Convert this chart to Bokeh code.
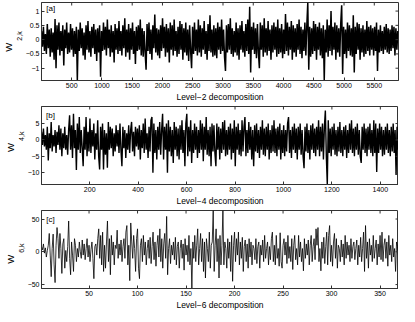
import math
from bokeh.plotting import figure
from bokeh.layouts import column
from bokeh.models import FixedTicker, Label, Range1d, Title
from bokeh.embed import file_html
from bokeh.resources import INLINE

# ---------------- data ----------------
# Level-2 coefficients, sampled every 16th position
w2_step = 16
w2 = [
 0.3,-0.25,0.45,-0.4,0.2,-0.5,0.55,-0.3,0.35,-0.6,0.4,-0.45,0.25,-0.7,0.72,-1.0,0.5,-0.35,0.6,-0.55,
 0.3,-0.4,0.5,-0.9,0.35,-0.3,0.6,-0.5,0.25,-0.45,0.55,-0.35,0.4,-0.6,0.3,-0.5,0.45,-1.43,0.35,-0.4,
 0.6,-0.3,0.4,-0.55,0.25,-0.7,0.5,-0.35,0.65,-0.45,0.3,-0.6,0.45,-0.3,0.55,-0.5,0.35,-0.75,0.4,-0.45,
 0.5,-1.3,0.3,-0.4,0.6,-0.35,0.45,-0.55,0.7,-0.3,0.35,-0.6,0.5,-0.45,0.3,-0.8,0.55,-0.35,0.4,-0.5,
 0.65,-0.4,0.3,-0.55,0.5,-0.3,0.75,-0.6,0.35,-0.45,0.55,-0.7,0.4,-0.35,0.6,-0.5,0.3,-0.85,0.45,-0.4,
 0.5,-0.35,0.7,-0.55,0.4,-0.6,0.3,-0.45,-1.05,0.55,-0.4,0.6,-0.5,0.35,-0.7,0.5,-0.3,0.88,-0.45,0.4,
 -0.55,0.35,-0.65,0.5,-0.4,0.75,-0.3,0.45,-0.6,0.55,-0.45,0.4,-0.8,0.6,-0.35,0.5,-0.55,0.7,-0.4,0.3,
 -0.6,0.45,-0.5,0.65,-0.35,0.55,-0.7,0.4,-0.45,0.6,-0.55,0.35,-0.75,0.5,-0.4,-1.0,0.45,-0.5,0.6,-0.4,
 0.35,-0.55,0.7,-0.45,0.5,-0.6,0.4,-0.35,0.65,-0.5,0.3,-0.7,0.55,-0.4,0.85,-0.45,0.35,-0.6,0.5,-0.55,
 0.4,-0.65,0.6,-0.35,0.45,-0.5,0.7,-0.4,0.35,-0.6,-1.1,0.5,-0.45,0.55,-0.35,0.75,-0.5,0.4,-0.6,0.3,
 -0.45,0.6,-0.55,0.4,-0.7,0.5,-0.35,0.65,-0.45,0.3,-0.6,0.55,-0.4,0.7,-0.5,1.15,-1.15,0.45,-0.35,0.6,
 -0.5,0.4,-0.65,0.55,-0.45,-1.0,0.6,-0.35,0.5,-0.6,0.75,-0.45,0.4,-0.55,0.65,-0.4,0.35,-0.7,0.5,-0.45,
 0.6,-0.35,0.45,-0.6,0.7,-0.5,0.4,-0.45,0.55,-0.65,0.35,-0.5,0.9,-0.4,0.6,-0.55,0.45,-0.35,0.65,-0.7,
 0.5,-0.45,0.4,-0.6,0.55,-0.35,0.7,-0.5,0.45,-0.65,0.35,-0.4,0.6,-0.55,0.5,1.3,-1.05,0.45,-0.6,0.4,
 -0.5,0.65,-0.4,0.55,-0.7,0.45,-0.35,0.6,-0.55,0.4,-0.65,0.5,-1.43,0.35,-0.45,0.7,-0.6,0.5,-0.4,1.0,
 -0.55,0.45,-0.35,0.6,-0.7,0.5,-0.45,0.4,-0.6,0.55,1.2,-1.2,0.45,-0.5,0.35,-0.65,0.6,-0.4,0.5,-0.55,
 0.4,-0.6,0.85,-1.15,0.45,-0.5,0.6,-0.35,0.55,-0.7,0.4,-0.45,0.5,-0.6,0.35,-0.5,0.65,-0.4,0.45,-0.55,
 0.5,-0.35,0.4,-0.55,0.45,-0.4,0.6,-1.1,0.35,-0.45,0.5,-0.4,0.3,-0.5,0.45,-0.35,0.55,-0.45,0.4,-0.5,
 0.35,-0.4,0.5,-0.3,0.45,-0.55,0.4,-0.35,0.3,
]

# Level-4 coefficients, sampled every 4th position
w4_step = 4
w4 = [
 2.5,-1.5,3.5,-2,1.5,-3,4,-6.3,2,-2.5,5.5,-3.5,1.5,-2,3,-4,2.5,-1.5,4.5,-3,
 3.5,-5,2,-2.5,4,-3,1.5,-4.5,3,7.5,-3,4.5,-5.5,8,-2.5,3,-9.2,5,-3,7,
 -4,3,-2.5,-8,4,-3,7,-5,2.5,-3.5,6.5,-4,3,-2,5,-6,2,-3,6,-5,
 -9,4,-3,5,-9,3,-4.5,2,-8.5,5.5,-3,4,-2.5,3.5,-5,2,-3.5,4.5,-2,3,
 -4,5,-3,-8,4,-2.5,3,-5.5,2,-3,4.5,-4,3,5.5,-3.5,2.5,-5,4,-2,3.5,
 -3,4.5,-6,3,-2.5,5,-4,6.5,-3,2,-5.5,4,-3.5,6,7,-10,5,-4,3,-6,
 4,-3,5.5,-4.5,3,8,-6,4,-3,5,-10,6,-3.5,4,-5,3,-7,5.5,-3,4,
 -5,3.5,-6,4.5,-3,6,-4,3,-8,5,8,-5,4,-3.5,6,-7,3,-4,5,-3,
 4,-5.5,3,-4,6,-3,5,-6.5,4,-3,7,-4.5,3,-5,4,-8,5,-3.5,4.5,-4,
 -8,5,-3,4,-6,3.5,-4,5.5,-3,6,-5,3,-4.5,4,-3,5,-6,3.5,-4,6,
 -8,4,-3,5,-4.5,3,-5,6,-3.5,4,7,-5,3,-4,5.5,-3,4,-6,3,-8,
 4.5,-3.5,5,-4,3,-5.5,4,-3,6,-4.5,3.5,-5,4,-3,5,-6,3,-4,4.5,-3.5,
 6,-4,3.5,-5,4,-3,5,-6,3,-4,4.5,-5,3,-3.5,5,7,-4,3,-5.5,4,
 -3,5,-4,3.5,-6,4,-3,5,-4.5,3,-5,-8.6,4,-3.5,5,-4,3,-6,4.5,-3,
 5,-4,3.5,-5,4,-3,6,-5,4,-3.5,5,-6,4,9,-5,-13.6,6,-4,3.5,-5,
 4,-3,5,-4.5,3,-5,4,-3.5,5.5,-4,3,-5,4,-3,4.5,-5.5,3,-4,5,-3,
 6,-4,3.5,-5,4,-3,5,-4.5,3,-5,-7,4,-3,5,-4,3.5,-5,4,-3,5,
 -4,3,-5,6,-4,5,-9.8,3.5,-4,5,-3,4,-5,3,-4.5,4,-3,5,-4,3,
 -5,4,-3.5,5,-4,3,-10.7,4,-3,
]

# Level-6 coefficients, every position 1..369
w6 = [
 8,3,12,-2,6,-8,2,10,28,-5,-38,5,27,-20,-47,10,37,20,-10,28,
 5,-33,12,20,-25,2,-15,8,47,-10,-35,15,-5,-30,20,10,-15,5,-8,15,
 0,-10,18,-5,12,-12,5,20,-8,10,-15,3,15,-10,-41,8,12,-5,20,35,
 -10,25,-20,30,-30,10,-25,15,47,-15,20,-35,25,-5,15,-20,10,5,33,-10,
 12,-5,18,-15,8,20,-10,30,40,-20,10,-44,44,15,-10,25,5,-30,20,35,
 -25,-41,10,20,-15,25,-5,15,-20,5,18,-10,22,-18,8,30,-12,15,-22,10,
 25,-8,35,-15,20,-25,12,28,-10,54,-35,5,20,-18,10,-5,15,-12,22,-20,
 8,15,-25,5,18,-10,12,-28,20,-5,10,-15,25,-20,5,-56,15,-10,25,-15,
 10,35,-20,5,28,-15,20,-30,15,-40,20,5,-15,30,-25,10,15,63,-30,10,
 35,-15,20,-40,25,-20,10,63,-20,15,5,-25,20,-10,15,-30,25,-45,10,30,
 -15,20,-5,30,-20,15,-10,22,-30,8,18,-15,12,-25,20,-8,15,-20,10,5,
 -12,20,-18,8,15,-25,10,-5,18,-15,25,-10,5,15,-20,8,-12,20,30,-15,
 10,-20,25,-10,5,-22,29,-15,-25,10,20,-5,15,-18,25,-10,8,-15,20,-27,
 10,25,-12,5,-20,25,-8,15,-15,5,-29,20,-10,12,-5,18,-20,10,25,-15,
 8,20,-12,35,10,37,-15,5,-29,15,-10,22,-18,8,30,-20,25,40,-15,10,
 -22,15,28,-10,20,-25,10,5,-15,18,-8,12,-20,25,-10,15,-5,10,-15,20,
 -10,8,15,-12,5,18,-20,10,-8,22,-15,5,30,-30,40,-10,15,-25,20,-5,
 10,-15,25,-10,5,18,-20,12,-8,25,-12,30,-15,10,20,-10,15,-22,25,-5,
 10,-15,20,-8,5,-30,15,8,-5,
]

x2 = [1 + w2_step * i for i in range(len(w2))]
x4 = [1 + w4_step * i for i in range(len(w4))]
x6 = [1 + i for i in range(len(w6))]

x2_ticks = [500, 1000, 1500, 2000, 2500, 3000, 3500, 4000, 4500, 5000, 5500]
y2_ticks = [-1, -0.5, 0, 0.5, 1]
x4_ticks = [200, 400, 600, 800, 1000, 1200, 1400]
y4_ticks = [-10, -5, 0, 5]
x6_ticks = [50, 100, 150, 200, 250, 300, 350]
y6_ticks = [-50, 0, 50]

FONT = "Liberation Sans"
AX = "#333333"
FH = 78


def fmt(v):
    s = ("%g" % abs(v))
    return ("\u2212" + s) if v < 0 else s


def panel(xs, ys, xr, yr, xt, yt, sub, tag, tag_xy, xlabel, lw):
    p = figure(frame_width=357, frame_height=FH,
               x_range=Range1d(*xr), y_range=Range1d(*yr),
               output_backend="svg", toolbar_location=None,
               min_border_left=20, min_border_right=2,
               min_border_top=2, min_border_bottom=22,
               background_fill_color="white", border_fill_color="white")
    p.line(xs, ys, line_color="black", line_width=lw)
    p.xgrid.grid_line_color = None
    p.ygrid.grid_line_color = None
    p.outline_line_color = AX
    p.outline_line_width = 1

    xa = p.xaxis[0]
    xa.ticker = FixedTicker(ticks=xt)
    xa.major_label_overrides = {t: fmt(t) for t in xt}
    xa.axis_label = xlabel
    ya = p.yaxis[0]
    ya.ticker = FixedTicker(ticks=yt)
    ya.major_label_overrides = {t: fmt(t) for t in yt}
    for a in (xa, ya):
        a.major_tick_in = 3
        a.major_tick_out = 0
        a.minor_tick_line_color = None
        a.axis_line_color = AX
        a.major_tick_line_color = AX
        a.major_label_text_font = FONT
        a.major_label_text_font_size = "7px"
        a.major_label_text_color = "black"
        a.axis_label_text_font = FONT
        a.axis_label_text_font_size = "8.5px"
        a.axis_label_text_font_style = "normal"
        a.axis_label_text_color = "black"
    xa.major_label_standoff = 2
    xa.axis_label_standoff = 1
    ya.major_label_standoff = 2

    # ticks on the top and right edges (box style), 3 px long, pointing inward
    p.ray(x=xt, y=[yr[1]] * len(xt), length=3, length_units="screen",
          angle=-math.pi / 2, line_color=AX, line_width=1)
    p.ray(x=[xr[1]] * len(yt), y=yt, length=3, length_units="screen",
          angle=math.pi, line_color=AX, line_width=1)

    # y label: W with subscript (two side titles); placed relative to the zero line
    zero_px = FH * (0 - yr[0]) / (yr[1] - yr[0])
    p.add_layout(Title(text=sub, align="left", offset=zero_px - 1, standoff=0,
                       text_font=FONT, text_font_size="7px", text_font_style="normal",
                       text_color="black"), "left")
    p.add_layout(Title(text="W", align="left", offset=zero_px - 12, standoff=0,
                       text_font=FONT, text_font_size="9.5px", text_font_style="normal",
                       text_color="black"), "left")
    p.add_layout(Label(x=tag_xy[0], y=tag_xy[1], text=tag, text_align="left",
                       text_baseline="middle", text_font=FONT, text_font_size="8px",
                       text_color="black"))
    return p


pa = panel(x2, w2, (1, 5900), (-1.43, 1.3), x2_ticks, y2_ticks, "2,k", "[a]", (80, 1.1),
           "Level\u22122 decomposition", 1.5)
pb = panel(x4, w4, (1, 1475), (-13.6, 10.2), x4_ticks, y4_ticks, "4,k", "[b]", (20, 7.6),
           "Level\u22124 decomposition", 1.4)
pc = panel(x6, w6, (1, 369), (-56, 63), x6_ticks, y6_ticks, "6,k", "[c]", (6, 50),
           "Level\u22126 decomposition", 0.8)

layout = column(pa, pb, pc, spacing=0)
open("out.html", "w").write(file_html(layout, INLINE))
